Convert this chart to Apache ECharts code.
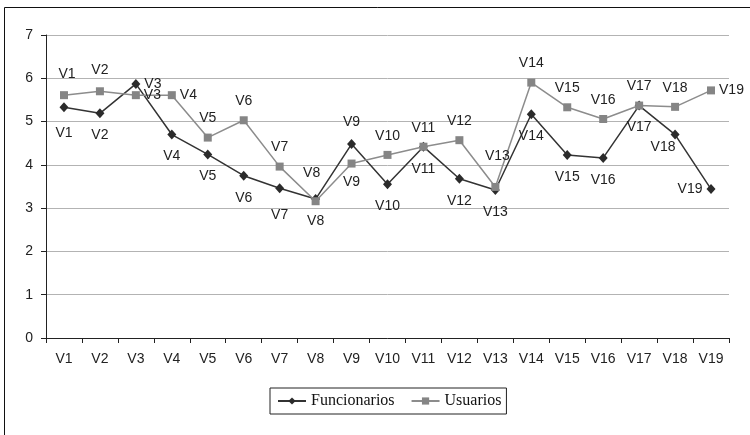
<!DOCTYPE html>
<html>
<head>
<meta charset="utf-8">
<script src="https://cdn.jsdelivr.net/npm/echarts@6/dist/echarts.min.js"></script>
<style>
  html, body { margin: 0; padding: 0; background: #fff; }
  #chart { width: 750px; height: 435px; }
</style>
</head>
<body>
<div id="chart"></div>
<script>
// Categories and mean scores per group
const categories = ['V1','V2','V3','V4','V5','V6','V7','V8','V9','V10','V11','V12','V13','V14','V15','V16','V17','V18','V19'];
const funcionarios = [5.33, 5.19, 5.87, 4.70, 4.24, 3.75, 3.46, 3.21, 4.48, 3.55, 4.42, 3.68, 3.42, 5.17, 4.23, 4.16, 5.37, 4.70, 3.44];
const usuarios     = [5.61, 5.70, 5.61, 5.61, 4.63, 5.03, 3.96, 3.16, 4.03, 4.23, 4.42, 4.57, 3.49, 5.90, 5.33, 5.06, 5.37, 5.34, 5.72];
const yTicks = [0, 1, 2, 3, 4, 5, 6, 7];

// Where each point's name label sits relative to its marker
const funcLabelPos = ['bottom','bottom','right','bottom','bottom','bottom','bottom','bottom','top','bottom','bottom','bottom','bottom','bottom','bottom','bottom','bottom','bottom','left'];
const userLabelPos = ['top','top','right','right','top','top','top','top','bottom','top','top','top','top','top','top','top','top','top','right'];
// Small nudges that keep crowded labels apart
const funcLabelNudge = { 0: [0, 4], 6: [0, 5], 17: [-12, -9] };
const userLabelNudge = { 0: [3, -2], 1: [0, -2], 7: [-4, -9], 12: [2, -12] };

const labelFont = { fontFamily: 'Liberation Sans, Arial, sans-serif', fontSize: 14, color: '#222' };

function buildPoints(values, positions, nudges, dist) {
  return values.map((v, i) => ({
    value: v,
    label: Object.assign({
      show: true,
      formatter: categories[i],
      position: positions[i],
      distance: positions[i] === 'right' || positions[i] === 'left' ? 4 : dist,
      offset: nudges[i] || [0, 0]
    }, labelFont)
  }));
}

const chart = echarts.init(document.getElementById('chart'), null, { renderer: 'canvas' });

chart.setOption({
  backgroundColor: '#fff',
  animation: false,
  graphic: [{
    type: 'rect',
    shape: { x: 4.5, y: 7.5, width: 800, height: 500 },
    style: { fill: 'none', stroke: '#111', lineWidth: 1 },
    silent: true
  }],
  grid: { left: 46, right: 21, top: 35, bottom: 97, containLabel: false },
  legend: {
    left: 270,
    top: 388,
    padding: [5, 5, 5, 7],
    borderColor: '#222',
    borderWidth: 1,
    itemWidth: 28,
    itemHeight: 9,
    itemGap: 16,
    textStyle: { fontFamily: 'Liberation Serif, Times New Roman, serif', fontSize: 16, color: '#111' },
    data: ['Funcionarios', 'Usuarios']
  },
  xAxis: {
    type: 'category',
    data: categories,
    boundaryGap: true,
    axisLine: { lineStyle: { color: '#222', width: 1 } },
    axisTick: { show: true, length: 5, alignWithLabel: false, lineStyle: { color: '#222' } },
    axisLabel: Object.assign({ margin: 14, interval: 0 }, labelFont),
    splitLine: { show: false }
  },
  yAxis: {
    type: 'value',
    min: yTicks[0],
    max: yTicks[yTicks.length - 1],
    interval: 1,
    axisLine: { show: true, lineStyle: { color: '#222', width: 1 } },
    axisTick: { show: true, length: 5, lineStyle: { color: '#222' } },
    axisLabel: Object.assign({ margin: 13 }, labelFont),
    splitLine: { show: true, lineStyle: { color: '#b3b3b3', width: 1 } }
  },
  series: [
    {
      name: 'Funcionarios',
      type: 'line',
      data: buildPoints(funcionarios, funcLabelPos, funcLabelNudge, 10),
      symbol: 'diamond',
      symbolSize: [9, 10],
      itemStyle: { color: '#2b2b2b' },
      lineStyle: { color: '#333', width: 1.5 },
      z: 2
    },
    {
      name: 'Usuarios',
      type: 'line',
      data: buildPoints(usuarios, userLabelPos, userLabelNudge, 8),
      symbol: 'rect',
      symbolSize: 8,
      itemStyle: { color: '#858585' },
      lineStyle: { color: '#8c8c8c', width: 1.5 },
      z: 3
    }
  ]
});
</script>
</body>
</html>
